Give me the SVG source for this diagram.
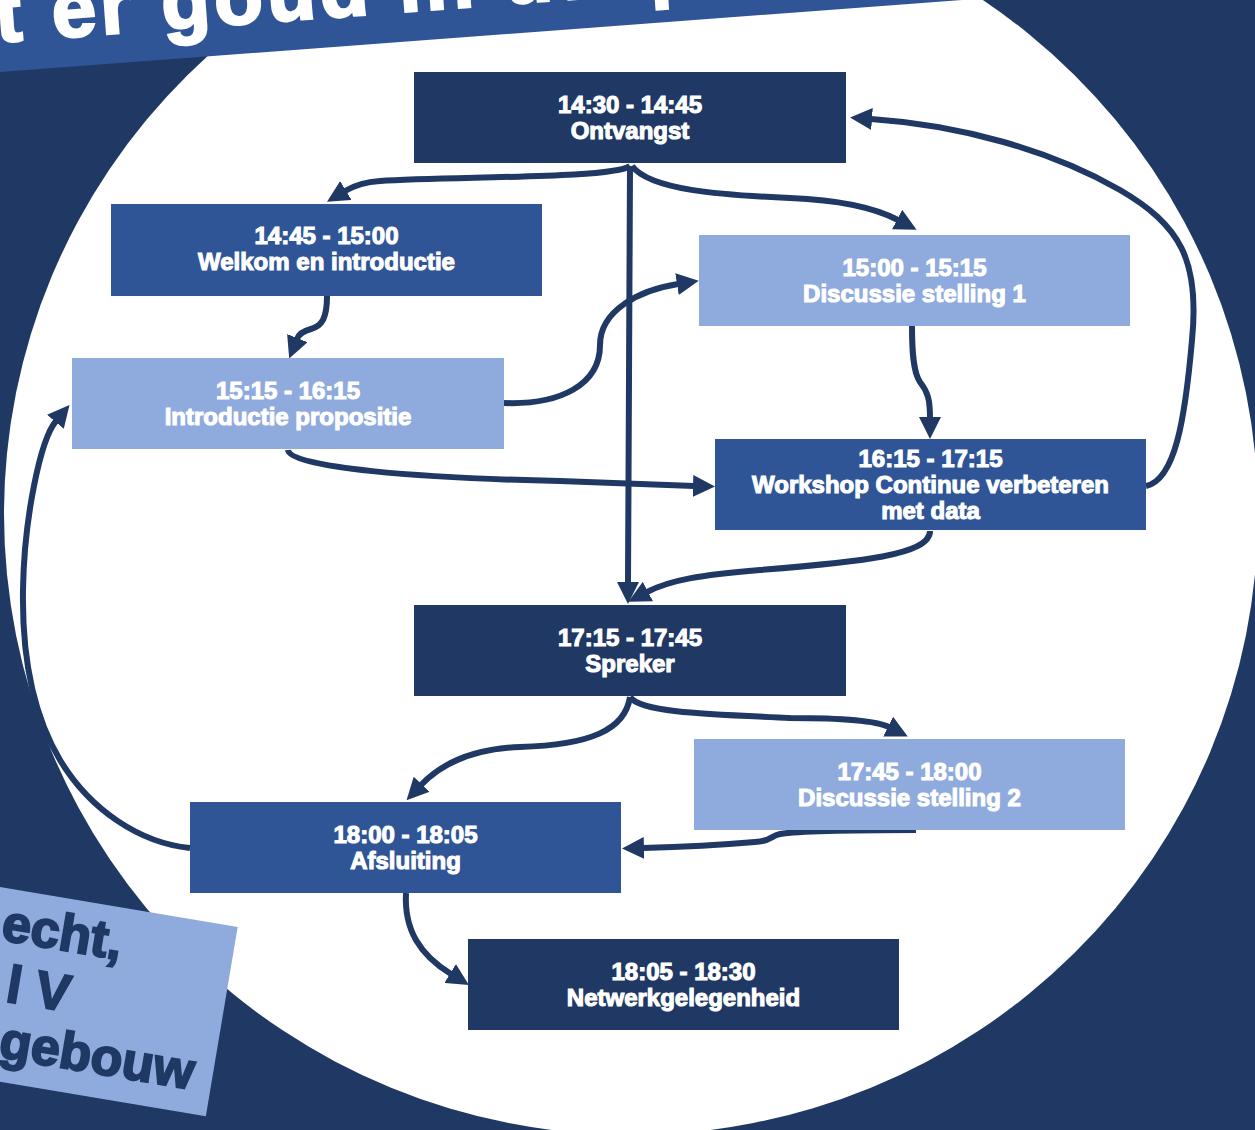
<svg xmlns="http://www.w3.org/2000/svg" width="1255" height="1130" viewBox="0 0 1255 1130">
  <defs>
    <marker id="arr" viewBox="0 0 22 22" refX="1" refY="11" markerWidth="22" markerHeight="22" markerUnits="userSpaceOnUse" orient="auto">
      <path d="M0,0 L22,11 L0,22 z" fill="#1F3864"/>
    </marker>
    <style>
      .dark { fill: #1F3864; }
      .mid { fill: #2F5597; }
      .light { fill: #8FAADC; }
      .lbl { font-family: "Liberation Sans", Arial, sans-serif; font-weight: bold; font-size: 24px; fill: #FFFFFF; stroke: #FFFFFF; stroke-width: 1.1; text-anchor: middle; }
      .conn path { fill: none; stroke: #1F3864; stroke-width: 6; marker-end: url(#arr); }
      .big { font-family: "Liberation Sans", Arial, sans-serif; font-weight: bold; }
    </style>
  </defs>

  <rect x="0" y="0" width="1255" height="1130" fill="#1F3864"/>
  <ellipse cx="631" cy="514" rx="627" ry="621" fill="#FFFFFF"/>

  <g id="banner" transform="translate(0 72) rotate(-4.28)">
    <rect x="-20" y="-150" width="1000" height="150" fill="#2F5597"/>
    <text class="big" x="-1" y="-30" font-size="80" letter-spacing="4" fill="#FFFFFF" stroke="#FFFFFF" stroke-width="2.5">t er goud in uw p</text>
  </g>

  <g id="location" transform="translate(0 887) rotate(9.54)">
    <rect x="-300" y="0" width="541" height="192" fill="#8FAADC"/>
    <g class="big" font-size="52" fill="#1F3864" stroke="#1F3864" stroke-width="2" text-anchor="end">
      <text x="130" y="52">echt,</text>
      <text x="87" y="112">l V</text>
      <text x="222" y="168">gebouw</text>
    </g>
  </g>

  <g id="connectors" class="conn">
    <path d="M630,166 C612,179 450,176 380,181 C365,182 355,185 345,191"/>
    <path d="M632,166 C650,190 720,195 790,198 C840,200 875,208 898,220"/>
    <path d="M630,166 C630,300 628,450 628,583"/>
    <path d="M327,296 C327,318 322,326 311,329 C303,331 299,334 297,339"/>
    <path d="M504,403 C560,405 600,385 600,345 C600,310 640,290 678,284"/>
    <path d="M288,450 C290,468 420,478 560,481 C620,483 660,485 694,486"/>
    <path d="M912,326 C912,350 913,372 920,382 C928,392 930,400 930,418"/>
    <path d="M1146,486 C1175,480 1185,420 1192,340 C1200,260 1180,225 1120,190 C1050,150 960,125 871,119"/>
    <path d="M930,531 C930,555 860,562 760,570 C700,575 670,580 647,592"/>
    <path d="M630,697 C625,730 590,745 520,747 C470,749 440,765 421,785"/>
    <path d="M630,697 C640,712 700,714 790,718 C840,718 875,720 889,727"/>
    <path d="M916,830 C860,830 800,831 780,834 C770,836 772,841 755,842 C720,845 680,847 643,848"/>
    <path d="M190,848 C140,843 90,810 60,760 C30,710 22,650 23,590 C24,520 40,440 56,421"/>
    <path d="M406,893 C404,930 420,955 451,974"/>
  </g>

  <g id="n1">
    <rect class="dark" x="414" y="72" width="432" height="91"/>
    <text class="lbl" x="630" y="113">14:30 - 14:45</text>
    <text class="lbl" x="630" y="139">Ontvangst</text>
  </g>
  <g id="n2">
    <rect class="mid" x="111" y="204" width="431" height="92"/>
    <text class="lbl" x="326.5" y="244">14:45 - 15:00</text>
    <text class="lbl" x="326.5" y="270">Welkom en introductie</text>
  </g>
  <g id="n3">
    <rect class="light" x="72" y="358" width="432" height="91"/>
    <text class="lbl" x="288" y="399">15:15 - 16:15</text>
    <text class="lbl" x="288" y="425">Introductie propositie</text>
  </g>
  <g id="n4">
    <rect class="light" x="699" y="235" width="431" height="91"/>
    <text class="lbl" x="914.5" y="276">15:00 - 15:15</text>
    <text class="lbl" x="914.5" y="302">Discussie stelling 1</text>
  </g>
  <g id="n5">
    <rect class="mid" x="715" y="439" width="431" height="91"/>
    <text class="lbl" x="930.5" y="467">16:15 - 17:15</text>
    <text class="lbl" x="930.5" y="493">Workshop Continue verbeteren</text>
    <text class="lbl" x="930.5" y="519">met data</text>
  </g>
  <g id="n6">
    <rect class="dark" x="414" y="605" width="432" height="91"/>
    <text class="lbl" x="630" y="646">17:15 - 17:45</text>
    <text class="lbl" x="630" y="672">Spreker</text>
  </g>
  <g id="n7">
    <rect class="light" x="694" y="739" width="431" height="91"/>
    <text class="lbl" x="909.5" y="780">17:45 - 18:00</text>
    <text class="lbl" x="909.5" y="806">Discussie stelling 2</text>
  </g>
  <g id="n8">
    <rect class="mid" x="190" y="802" width="431" height="91"/>
    <text class="lbl" x="405.5" y="843">18:00 - 18:05</text>
    <text class="lbl" x="405.5" y="869">Afsluiting</text>
  </g>
  <g id="n9">
    <rect class="dark" x="468" y="939" width="431" height="91"/>
    <text class="lbl" x="683.5" y="980">18:05 - 18:30</text>
    <text class="lbl" x="683.5" y="1006">Netwerkgelegenheid</text>
  </g>
</svg>
